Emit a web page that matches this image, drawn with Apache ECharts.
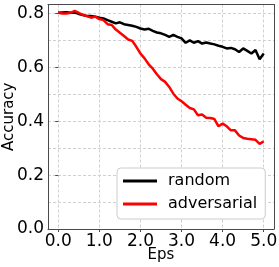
<!DOCTYPE html>
<html><head><meta charset="utf-8">
<script src="https://cdn.jsdelivr.net/npm/echarts@6/dist/echarts.min.js"></script>
<style>html,body{margin:0;padding:0;background:#fff}#c{width:279px;height:267px}</style>
</head><body><div id="c"></div>
<script>
const eps = [0.0,0.1,0.2,0.3,0.4,0.5,0.6,0.7,0.8,0.9,1.0,1.1,1.2,1.3,1.4,1.5,1.6,1.7,1.8,1.9,2.0,2.1,2.2,2.3,2.4,2.5,2.6,2.7,2.8,2.9,3.0,3.1,3.2,3.3,3.4,3.5,3.6,3.7,3.8,3.9,4.0,4.1,4.2,4.3,4.4,4.5,4.6,4.7,4.8,4.9,5.0];
const randomAcc = [0.802,0.803,0.804,0.802,0.803,0.798,0.794,0.790,0.790,0.788,0.784,0.781,0.775,0.769,0.763,0.767,0.760,0.757,0.754,0.750,0.744,0.740,0.743,0.735,0.729,0.726,0.720,0.713,0.720,0.713,0.707,0.691,0.700,0.691,0.697,0.688,0.692,0.688,0.685,0.680,0.676,0.670,0.672,0.667,0.657,0.670,0.661,0.651,0.664,0.630,0.651];
const advAcc = [0.802,0.800,0.800,0.802,0.809,0.802,0.794,0.790,0.784,0.788,0.779,0.775,0.760,0.757,0.740,0.728,0.716,0.703,0.698,0.676,0.651,0.633,0.611,0.595,0.574,0.556,0.546,0.527,0.502,0.484,0.474,0.461,0.449,0.444,0.422,0.425,0.413,0.412,0.408,0.381,0.391,0.381,0.366,0.366,0.347,0.338,0.335,0.333,0.331,0.316,0.325];
const seriesNames = ['random','adversarial'];
// x axis positions in 0.25 steps from -0.25 to 5.25 (matplotlib 5% margin); labels only at integers
const xCats = [-0.25,0,0.25,0.5,0.75,1,1.25,1.5,1.75,2,2.25,2.5,2.75,3,3.25,3.5,3.75,4,4.25,4.5,4.75,5,5.25];

const chart = echarts.init(document.getElementById('c'), null, {renderer:'canvas'});
const F = 'DejaVu Sans';
const frame = '#4a4a4a';
const gridC = '#d0d0d0';
const isInt = (i,v)=>Number.isInteger(Number(v));
chart.setOption({
  animation:false,
  grid:{left:48,right:5,top:4.5,bottom:38,outerBoundsMode:'none',containLabel:false},
  xAxis:[
    {type:'value',min:-0.25,max:5.25,show:false},
    {type:'category',data:xCats.map(String),boundaryGap:false,position:'bottom',
      name:'Eps',nameLocation:'middle',nameGap:19,nameMoveOverlap:false,nameTextStyle:{fontFamily:F,fontSize:15,color:'#000'},
      axisLine:{show:true,lineStyle:{color:frame,width:1}},
      axisTick:{show:true,length:3,interval:isInt,lineStyle:{color:frame}},
      axisLabel:{fontFamily:F,fontSize:17,color:'#000',margin:4,interval:isInt,
        formatter:v=>Number(v).toFixed(1)},
      splitLine:{show:true,interval:isInt,lineStyle:{color:gridC,type:[3,2],width:1}}},
    {type:'value',min:-0.25,max:5.25,position:'top',
      axisLine:{show:true,onZero:false,lineStyle:{color:frame,width:1}},
      axisTick:{show:false},axisLabel:{show:false},splitLine:{show:false}}
  ],
  yAxis:[
    {type:'value',min:0,max:0.833,interval:0.1,
      name:'Accuracy',nameLocation:'middle',nameGap:31,nameMoveOverlap:false,nameTextStyle:{fontFamily:F,fontSize:15,color:'#000'},
      axisLine:{show:true,onZero:false,lineStyle:{color:frame,width:1}},
      axisTick:{show:false},
      axisLabel:{fontFamily:F,fontSize:17,color:'#000',margin:4,showMaxLabel:false,
        formatter:v=>(Math.round(v*10)%2===0 && v<0.83)?v.toFixed(1):''},
      splitLine:{show:true,lineStyle:{color:gridC,type:[3,2],width:1}}},
    {type:'value',min:0,max:0.833,interval:0.2,position:'left',
      axisLine:{show:false},axisTick:{show:true,length:3,lineStyle:{color:frame}},
      axisLabel:{show:false},splitLine:{show:false}},
    {type:'value',min:0,max:0.833,position:'right',
      axisLine:{show:true,onZero:false,lineStyle:{color:frame,width:1}},
      axisTick:{show:false},axisLabel:{show:false},splitLine:{show:false}}
  ],
  legend:{left:117,top:168,orient:'vertical',backgroundColor:'#fff',borderColor:'#cccccc',borderWidth:1,borderRadius:4,
    padding:[5,8,7,6],itemGap:7,itemWidth:34,itemHeight:3,icon:'rect',
    textStyle:{fontFamily:F,fontSize:16,color:'#000',padding:[0,0,0,6]},
    data:seriesNames},
  series:[
    {name:seriesNames[0],type:'line',xAxisIndex:0,yAxisIndex:0,data:eps.map((x,i)=>[x,randomAcc[i]]),showSymbol:false,symbol:'none',
      lineStyle:{color:'#000',width:2.5},itemStyle:{color:'#000'}},
    {name:seriesNames[1],type:'line',xAxisIndex:0,yAxisIndex:0,data:eps.map((x,i)=>[x,advAcc[i]]),showSymbol:false,symbol:'none',
      lineStyle:{color:'#ff0000',width:2.5},itemStyle:{color:'#ff0000'}}
  ]
});
</script></body></html>
